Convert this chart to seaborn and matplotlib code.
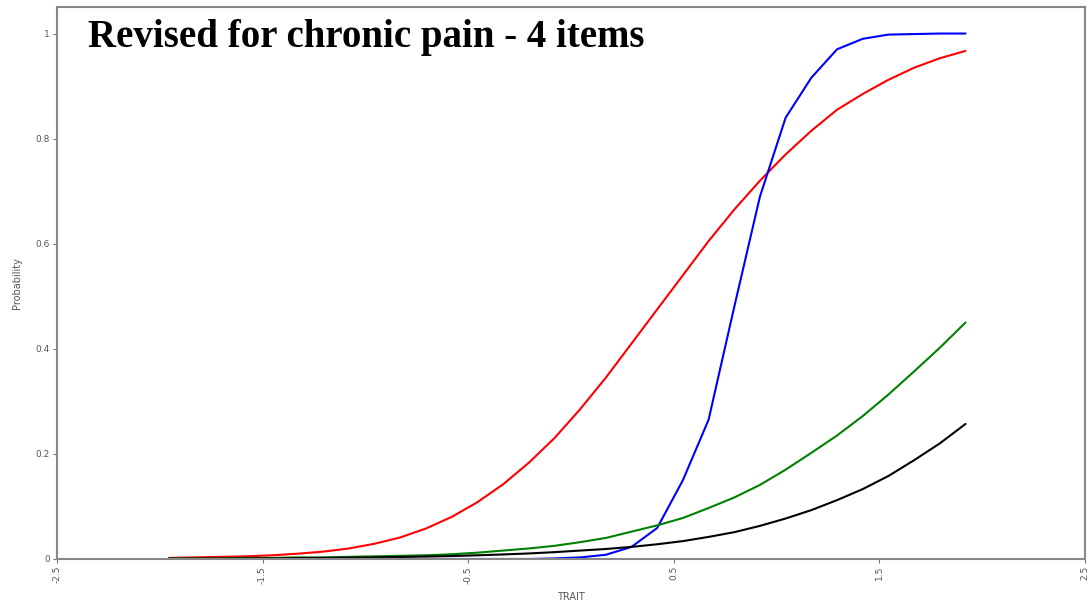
import matplotlib
matplotlib.use("Agg")
import matplotlib.pyplot as plt
import seaborn as sns
import pandas as pd

trait = [-1.955, -1.83, -1.705, -1.58, -1.455, -1.33, -1.205, -1.08, -0.955, -0.83,
         -0.705, -0.58, -0.455, -0.33, -0.205, -0.08, 0.045, 0.17, 0.295, 0.42,
         0.545, 0.67, 0.795, 0.92, 1.045, 1.17, 1.295, 1.42, 1.545, 1.67,
         1.795, 1.92]

red = [0.002, 0.003, 0.004, 0.005, 0.007, 0.01, 0.014, 0.02, 0.029, 0.041,
       0.058, 0.08, 0.108, 0.142, 0.183, 0.23, 0.285, 0.345, 0.41, 0.475,
       0.54, 0.605, 0.665, 0.72, 0.77, 0.815, 0.855, 0.885, 0.912, 0.935,
       0.953, 0.967]

blue = [0.0, 0.0, 0.0, 0.0, 0.0, 0.0, 0.0, 0.0, 0.0, 0.0,
        0.0, 0.0, 0.0, 0.0, 0.0, 0.001, 0.003, 0.008, 0.023, 0.059,
        0.15, 0.265, 0.48, 0.69, 0.84, 0.916, 0.97, 0.99, 0.998, 0.999,
        1.0, 1.0]

green = [0.001, 0.001, 0.001, 0.002, 0.002, 0.003, 0.003, 0.004, 0.005, 0.006,
         0.007, 0.009, 0.012, 0.016, 0.02, 0.025, 0.032, 0.04, 0.052, 0.064,
         0.078, 0.097, 0.117, 0.141, 0.17, 0.202, 0.235, 0.272, 0.313, 0.357,
         0.402, 0.45]

black = [0.0005, 0.0007, 0.0009, 0.001, 0.0013, 0.0016, 0.002, 0.0025, 0.003, 0.0038,
         0.0046, 0.0056, 0.007, 0.0086, 0.0105, 0.013, 0.016, 0.019, 0.023, 0.028,
         0.034, 0.042, 0.051, 0.063, 0.077, 0.093, 0.112, 0.133, 0.158, 0.188,
         0.22, 0.257]

series_names = ["c1", "c2", "c3", "c4"]
series_colors = ["#ff0000", "#0000ff", "#008000", "#000000"]

xticks = [-2.5, -1.5, -0.5, 0.5, 1.5, 2.5]
xtick_labels = ["-2.5", "-1.5", "-0.5", "0.5", "1.5", "2.5"]
yticks = [0, 0.2, 0.4, 0.6, 0.8, 1]
ytick_labels = ["0", "0.2", "0.4", "0.6", "0.8", "1"]

title = "Revised for chronic pain - 4 items"

frames = []
for name, vals in zip(series_names, [red, blue, green, black]):
    frames.append(pd.DataFrame({"TRAIT": trait, "Probability": vals, "curve": name}))
df = pd.concat(frames, ignore_index=True)

sns.set_style("white")
fig = plt.figure(figsize=(10.88, 6.06), dpi=100)
ax = fig.add_axes([0.0524, 0.0776, 0.9446, 0.9104])

sns.lineplot(data=df, x="TRAIT", y="Probability", hue="curve",
             palette=dict(zip(series_names, series_colors)),
             linewidth=1.5, legend=False, ax=ax, sort=False)

ax.set_xlim(-2.5, 2.5)
ax.set_ylim(0, 1.05)
ax.set_xticks(xticks)
ax.set_xticklabels(xtick_labels, rotation=90, fontsize=6.5, color="#555555")
ax.set_yticks(yticks)
ax.set_yticklabels(ytick_labels, fontsize=6.5, color="#555555")
ax.tick_params(axis="both", direction="out", length=3, width=0.8, color="#777777", pad=2,
               bottom=True, left=True)
for sp in ax.spines.values():
    sp.set_color("#888888")
    sp.set_linewidth(1.5)

ax.set_xlabel("TRAIT", fontsize=7, color="#555555", labelpad=6)
ax.set_ylabel("Probability", fontsize=7, color="#555555", labelpad=10)

ax.text(0.030, 0.978, title, transform=ax.transAxes, ha="left", va="top",
        fontsize=28, family="Liberation Serif", fontweight="bold", color="black")

fig.savefig("out.png", dpi=100)
